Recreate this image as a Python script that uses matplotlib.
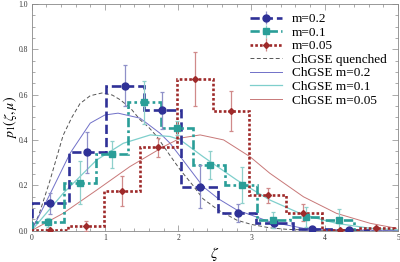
import numpy as np
import matplotlib
matplotlib.use("Agg")
import matplotlib.pyplot as plt
from matplotlib.ticker import MultipleLocator, FormatStrFormatter

plt.rcParams['font.family'] = ['Liberation Serif', 'DejaVu Serif']
plt.rcParams['mathtext.fontset'] = 'stix'

# histogram data (bin centres, heights, errors)
blue_w = 0.51
blue_h = [0.12, 0.345, 0.64, 0.53, 0.194, 0.076, 0.033, 0.008, 0.002]
blue_x = [0.25, 0.76, 1.27, 1.78, 2.30, 2.81, 3.31, 3.82, 4.33]
blue_e = [0.045, 0.09, 0.09, 0.08, 0.095, 0.04, 0.022, 0.008, 0.0]

cyan_w = 0.44
cyan_h = [0.036, 0.21, 0.336, 0.566, 0.452, 0.29, 0.2, 0.046, 0.06, 0.046]
cyan_x = [0.22, 0.66, 1.10, 1.54, 1.98, 2.43, 2.87, 3.30, 3.75, 4.19]
cyan_e = [0.02, 0.095, 0.06, 0.095, 0.03, 0.062, 0.08, 0.035, 0.045, 0.05]

red_w = 0.495
red_h = [0.002, 0.02, 0.175, 0.368, 0.67, 0.528, 0.155, 0.079, 0.002, 0.012]
red_x = [0.25, 0.74, 1.24, 1.73, 2.23, 2.72, 3.22, 3.71, 4.21, 4.70]
red_e = [0.0, 0.022, 0.065, 0.042, 0.12, 0.09, 0.032, 0.037, 0.0, 0.01]

# theory curves
q_x = [0, 0.1, 0.25, 0.43, 0.55, 0.66, 0.8, 0.96, 1.1, 1.21, 1.35, 1.48, 1.6, 1.71,
       1.87, 2.03, 2.2, 2.34, 2.55, 2.8, 3.0, 3.25, 3.5, 4.0, 5.0]
q_y = [0, 0.07, 0.22, 0.42, 0.5, 0.56, 0.595, 0.607, 0.598, 0.577, 0.54, 0.489, 0.455, 0.415,
       0.34, 0.267, 0.2, 0.14, 0.09, 0.046, 0.027, 0.012, 0.005, 0.001, 0.0]

b_x = [0, 0.25, 0.525, 0.8, 1.0, 1.18, 1.48, 1.75, 1.89, 2.03, 2.34, 2.55, 2.8, 3.25, 3.71, 4.2, 5.0]
b_y = [0, 0.16, 0.341, 0.474, 0.51, 0.518, 0.496, 0.43, 0.385, 0.326, 0.194, 0.14, 0.091, 0.039, 0.01, 0.003, 0.0]

c_x = [0, 0.43, 0.89, 1.25, 1.62, 1.89, 2.03, 2.34, 2.8, 3.25, 3.71, 4.16, 4.62, 5.0]
c_y = [0, 0.164, 0.312, 0.385, 0.422, 0.415, 0.40, 0.326, 0.223, 0.135, 0.069, 0.032, 0.01, 0.003]

r_x = [0, 0.43, 0.89, 1.34, 1.8, 2.03, 2.3, 2.62, 2.98, 3.25, 3.71, 4.16, 4.62, 4.98]
r_y = [0, 0.076, 0.179, 0.282, 0.37, 0.408, 0.422, 0.40, 0.326, 0.253, 0.149, 0.076, 0.032, 0.01]

blue = '#2f3197'
cyan = '#2a9e98'
red = '#9e2a2a'

fig = plt.figure(figsize=(4, 2.62), dpi=100)
ax = fig.add_axes([0.079, 0.12, 0.916, 0.865])

handles = []

def hist(ax, w, h, xc, e, col, ls, marker, ms, ecol, label):
    edges = np.arange(len(h) + 1) * w
    ax.stairs(h, edges, baseline=0, color=col, lw=1.9, ls=ls, zorder=3)
    ax.errorbar(xc, h, yerr=e, fmt=marker, color=col, ms=ms, ecolor=ecol,
                elinewidth=0.9, capsize=1.5, capthick=0.9, zorder=4)
    # proxy for legend
    hd = ax.errorbar([], [], yerr=[], fmt=marker, ls=ls, lw=1.9, color=col, ms=ms,
                     ecolor=ecol, elinewidth=0.9, capsize=1.5, label=label)
    handles.append(hd)

hist(ax, blue_w, blue_h, blue_x, blue_e, blue, (0, (3.5, 1.5)), 'o', 5, '#8f90c8', 'm=0.2')
hist(ax, cyan_w, cyan_h, cyan_x, cyan_e, cyan, (0, (3.5, 1.2, 1, 1.2)), 's', 4.5, '#8fd0cc', 'm=0.1')
hist(ax, red_w, red_h, red_x, red_e, red, (0, (1, 0.8)), 'D', 3, '#d08a8a', 'm=0.05')

handles += ax.plot(q_x, q_y, color='#555555', lw=0.7, ls=(0, (4, 2.5)), label='ChGSE quenched', zorder=2)
handles += ax.plot(b_x, b_y, color='#7070c8', lw=0.7, label='ChGSE m=0.2', zorder=2)
handles += ax.plot(c_x, c_y, color='#7fcfcc', lw=0.9, label='ChGSE m=0.1', zorder=2)
handles += ax.plot(r_x, r_y, color='#c87878', lw=0.7, label='ChGSE m=0.05', zorder=2)

ax.set_xlim(0, 5)
ax.set_ylim(0, 1.0)
ax.xaxis.set_major_locator(MultipleLocator(1))
ax.xaxis.set_minor_locator(MultipleLocator(0.2))
ax.yaxis.set_major_locator(MultipleLocator(0.2))
ax.yaxis.set_minor_locator(MultipleLocator(0.05))
ax.xaxis.set_major_formatter(FormatStrFormatter('%d'))
ax.yaxis.set_major_formatter(FormatStrFormatter('%.1f'))
ax.tick_params(which='both', direction='in', top=True, right=True, labelsize=5.5,
               color='#888888', labelcolor='#333333', width=0.5, pad=2.5)
ax.tick_params(which='major', length=4)
ax.tick_params(which='minor', length=2)
for s in ax.spines.values():
    s.set_color('#888888')
    s.set_linewidth(0.6)

ax.set_xlabel(r'$\zeta$', fontsize=11)
ax.set_ylabel(r'$p_1(\zeta,\mu)$', fontsize=10)
ax.xaxis.set_label_coords(0.5, -0.062)
ax.yaxis.set_label_coords(-0.035, 0.5)

ax.legend(handles=handles, loc='upper left', bbox_to_anchor=(0.596, 0.96), frameon=False,
          fontsize=9.5, handlelength=2.4, handletextpad=0.75, labelspacing=0.1,
          borderpad=0, borderaxespad=0)

fig.savefig('out.png', dpi=100)
